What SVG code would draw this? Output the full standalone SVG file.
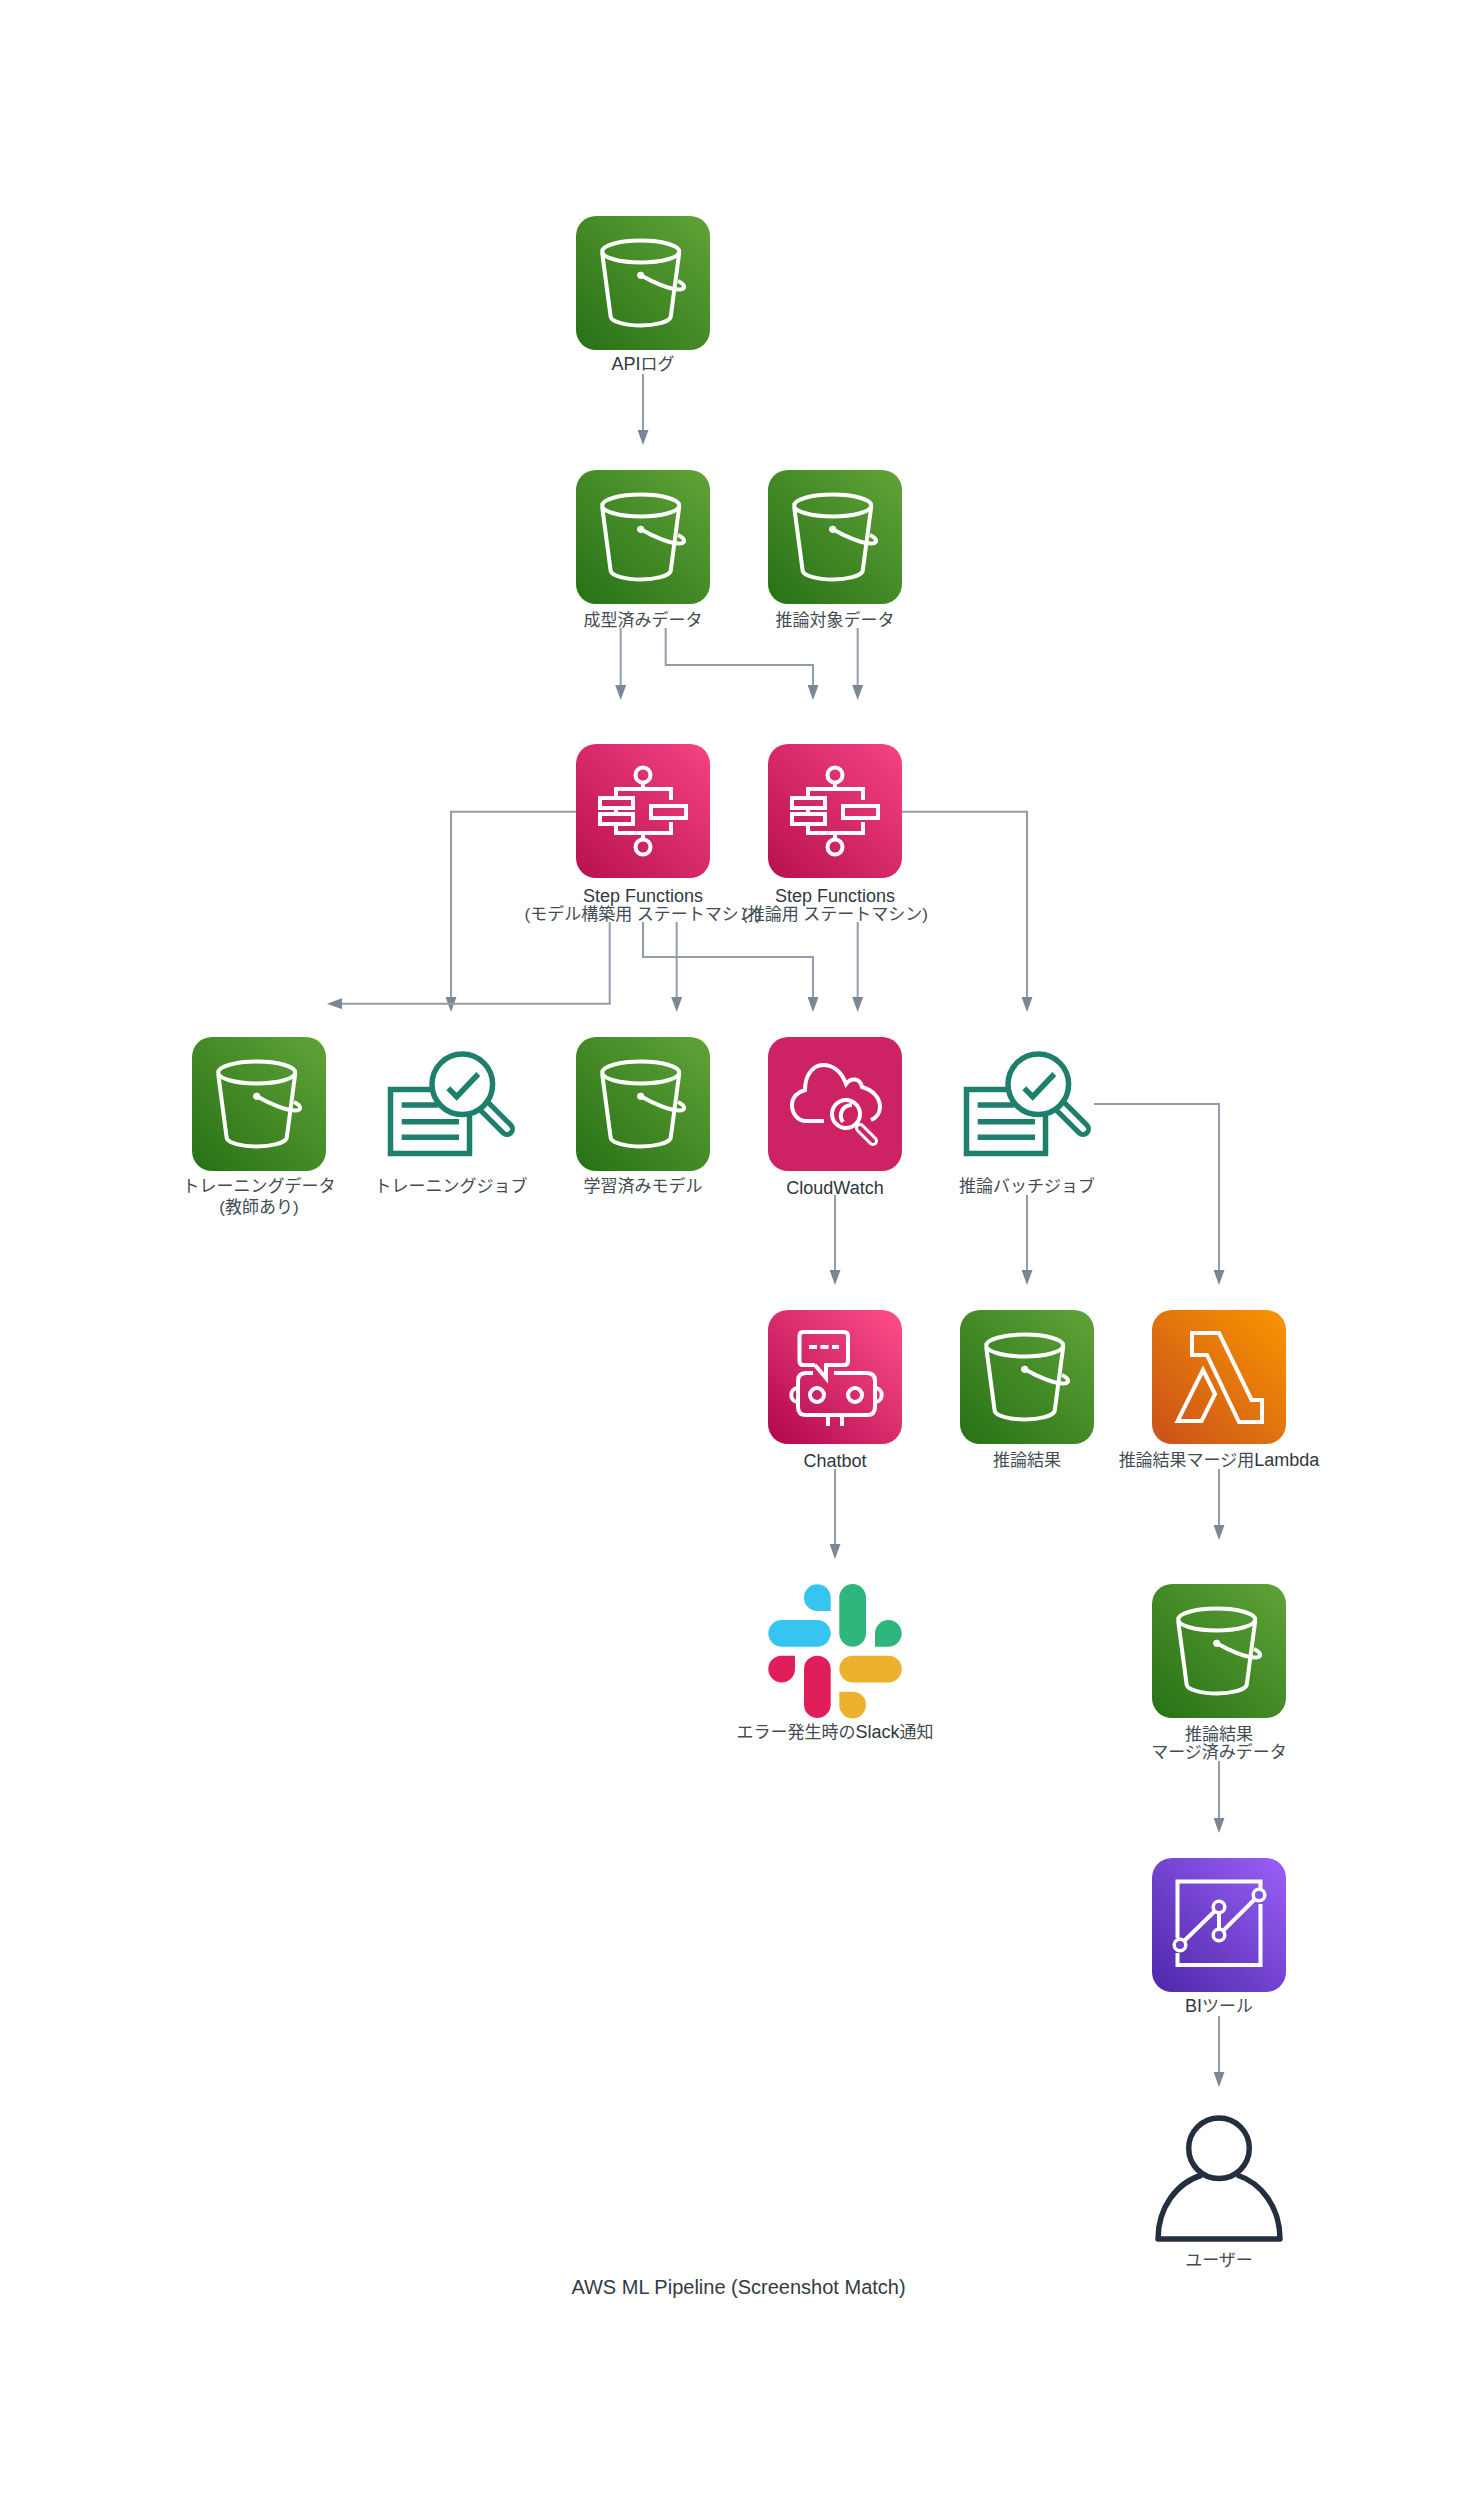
<svg xmlns="http://www.w3.org/2000/svg" width="1478" height="2494" viewBox="0 0 1478 2494">
<style>
text{font-family:"Liberation Sans","Noto Sans CJK JP",sans-serif;font-size:17px;fill:#434b54;text-anchor:middle}
.l{font-size:18px;fill:#2f3740}
.c{fill:none;stroke:#929dab;stroke-width:2;marker-end:url(#ah)}
.w{fill:none;stroke:#fff;stroke-width:4}
.j{fill:none;stroke:#1d7f6c;stroke-width:5.5}
.jf{fill:#fff;stroke:#1d7f6c;stroke-width:5.5}
</style>
<defs>
<linearGradient id="gG" x1="0" y1="1" x2="1" y2="0"><stop offset="0" stop-color="#277116"/><stop offset="1" stop-color="#60A337"/></linearGradient>
<linearGradient id="gP" x1="0" y1="1" x2="1" y2="0"><stop offset="0" stop-color="#B8114F"/><stop offset="1" stop-color="#F54283"/></linearGradient>
<linearGradient id="gC" x1="0" y1="1" x2="1" y2="0"><stop offset="0" stop-color="#B0084D"/><stop offset="1" stop-color="#FF4F8B"/></linearGradient>
<linearGradient id="gO" x1="0" y1="1" x2="1" y2="0"><stop offset="0" stop-color="#C8511B"/><stop offset="1" stop-color="#FA9500"/></linearGradient>
<linearGradient id="gV" x1="0" y1="1" x2="1" y2="0"><stop offset="0" stop-color="#4D27A8"/><stop offset="1" stop-color="#9A60F8"/></linearGradient>
<marker id="ah" markerUnits="userSpaceOnUse" markerWidth="15" markerHeight="11" refX="5" refY="5.5" viewBox="0 0 15 11" orient="auto"><path d="M0 0L15 5.500L0 11z" fill="#7b8794"/></marker>
<g id="bucket">
<rect width="134" height="134" rx="20" fill="url(#gG)"/>
<ellipse cx="64.700" cy="35.500" rx="38.500" ry="11" class="w"/>
<path class="w" d="M26.200 37L34.700 101C36 106 50 109.500 64.700 109.500C79 109.500 93 106 94.700 101L103.200 37"/>
<circle cx="64.700" cy="59.300" r="3.200" fill="#fff" stroke="#fff"/>
<path class="w" d="M64.700 59.300C78 67 95 73.500 103 73.500C110 73.500 110 69 102 65"/>
</g>
<g id="sf">
<rect width="134" height="134" rx="20" fill="url(#gP)"/>
<circle cx="67" cy="31" r="7.500" class="w"/><circle cx="67" cy="103" r="7.500" class="w"/>
<path class="w" d="M67 39V45M40 54V45H95V56M67 89V95M40 80V89H95V78M40 64V70"/>
<rect x="24" y="54" width="33" height="10" class="w"/><rect x="24" y="70" width="33" height="10" class="w"/><rect x="75" y="62" width="35" height="12" class="w"/>
</g>
<g id="job">
<rect x="4.500" y="49.500" width="79" height="64" class="jf"/>
<path class="j" d="M15.700 65H52M15.700 81.700H73M15.700 97.300H73"/>
<path d="M98 66L121 89" stroke="#1d7f6c" stroke-width="16" stroke-linecap="round"/>
<path d="M98 66L121 89" stroke="#fff" stroke-width="6" stroke-linecap="round"/>
<circle cx="76.300" cy="44.300" r="30.300" class="jf"/>
<path class="j" d="M62.300 48.300L70.700 56.700L92.300 34"/>
</g>
</defs>
<g id="connectors">
<path class="c" d="M643 374V435"/>
<path class="c" d="M620.700 628V690"/>
<path class="c" d="M665.700 628V665H813V690"/>
<path class="c" d="M857.700 628V690"/>
<path class="c" d="M576 811.700H451V1002"/>
<path class="c" d="M609.700 922V1003.700H337"/>
<path class="c" d="M643 922V957H813V1002"/>
<path class="c" d="M676.700 922V1002"/>
<path class="c" d="M857.700 922V1002"/>
<path class="c" d="M902 811.700H1027V1002"/>
<path class="c" d="M835 1195V1275"/>
<path class="c" d="M1027 1195V1275"/>
<path class="c" d="M1094 1104H1219V1275"/>
<path class="c" d="M835 1469V1549"/>
<path class="c" d="M1219 1469V1530"/>
<path class="c" d="M1219 1761V1823"/>
<path class="c" d="M1219 2016V2077"/>
</g>
<g id="api-log"><use href="#bucket" x="576" y="216"/><text x="643" y="370"><tspan class="l">API</tspan>ログ</text></g>
<g id="formatted-data"><use href="#bucket" x="576" y="470"/><text x="643" y="626">成型済みデータ</text></g>
<g id="inference-target"><use href="#bucket" x="768" y="470"/><text x="835" y="626">推論対象データ</text></g>
<g id="sf-training"><use href="#sf" x="576" y="744"/><text x="643" y="902" class="l">Step Functions</text><text x="643" y="920">(モデル構築用 ステートマシン)</text></g>
<g id="sf-inference"><use href="#sf" x="768" y="744"/><text x="835" y="902" class="l">Step Functions</text><text x="835" y="920">(推論用 ステートマシン)</text></g>
<g id="training-data"><use href="#bucket" x="192" y="1037"/><text x="259" y="1192">トレーニングデータ</text><text x="259" y="1213">(教師あり)</text></g>
<g id="training-job"><use href="#job" x="386" y="1040"/><text x="451" y="1192">トレーニングジョブ</text></g>
<g id="trained-model"><use href="#bucket" x="576" y="1037"/><text x="643" y="1192">学習済みモデル</text></g>
<g id="cloudwatch"><rect x="768" y="1037" width="134" height="134" rx="20" fill="#CD2264"/>
<g transform="translate(768 1037)"><path class="w" d="M56 84H38C30 84 24 77 24 68C24 60 30 55 37 53C37 38 45 28 55 28C66 28 74 36 78 47C83 40 92 41 94 50C105 53 112 61 112 70C112 76 108 81 103 83"/>
<circle cx="78" cy="77" r="14" class="w"/><path class="w" d="M75 85C70 78 74 68 84 68"/>
<path d="M92 91L105 104" stroke="#fff" stroke-width="10" stroke-linecap="round"/><path d="M92 91L105 104" stroke="#CD2264" stroke-width="4" stroke-linecap="round"/></g>
<text x="835" y="1194" class="l">CloudWatch</text></g>
<g id="inference-job"><use href="#job" x="962" y="1040"/><text x="1027" y="1192">推論バッチジョブ</text></g>
<g id="chatbot"><rect x="768" y="1310" width="134" height="134" rx="20" fill="url(#gC)"/>
<g transform="translate(768 1310)"><path class="w" d="M47 55H35Q31.500 55 31.500 51V26Q31.500 22 35 22H76Q80 22 80 26V51Q80 55 76 55H58V68L47 55"/>
<path class="w" d="M41 37H71" stroke-dasharray="8 3.500"/>
<path class="w" d="M45 63H38Q30 63 30 71V97Q30 105 38 105H99Q107 105 107 97V71Q107 63 99 63H66"/>
<path class="w" d="M30 78C21 78 21 92 30 92M107 78C116 78 116 92 107 92M60 105V116M74 105V116"/>
<ellipse cx="49" cy="85" rx="7" ry="7" class="w"/><ellipse cx="87" cy="85" rx="7" ry="7" class="w"/></g>
<text x="835" y="1467" class="l">Chatbot</text></g>
<g id="inference-result"><use href="#bucket" x="960" y="1310"/><text x="1027" y="1466">推論結果</text></g>
<g id="merge-lambda"><rect x="1152" y="1310" width="134" height="134" rx="20" fill="url(#gO)"/>
<g transform="translate(1152 1310)"><path class="w" d="M40 23H67L99.600 90H110V112H87L55 45H40Z"/><path class="w" d="M51 60L63 84L49.600 111H25.600Z"/></g>
<text x="1219" y="1466">推論結果マージ用<tspan class="l">Lambda</tspan></text></g>
<g id="slack">
<path fill="#36C5F0" d="M830.700 1611H817.300A13.350 13.350 0 1 1 830.700 1597.300Z"/><rect x="768.300" y="1620" width="62.400" height="26.700" rx="13.350" fill="#36C5F0"/>
<rect x="839.300" y="1584" width="26.700" height="62.700" rx="13.350" fill="#2EB67D"/><path fill="#2EB67D" d="M875 1646.700V1633.300A13.350 13.350 0 1 1 888.350 1646.700Z"/>
<path fill="#E01E5A" d="M795 1655.700V1669A13.350 13.350 0 1 1 781.650 1655.700Z"/><rect x="804" y="1655.700" width="26.700" height="62.300" rx="13.350" fill="#E01E5A"/>
<rect x="839.300" y="1655.700" width="62.400" height="26.700" rx="13.350" fill="#ECB22E"/><path fill="#ECB22E" d="M839.300 1691.700H852.650A13.350 13.350 0 1 1 839.300 1705Z"/>
<text x="835" y="1738">エラー発生時の<tspan class="l">Slack</tspan>通知</text></g>
<g id="merged-data"><use href="#bucket" x="1152" y="1584"/><text x="1219" y="1740">推論結果</text><text x="1219" y="1758">マージ済みデータ</text></g>
<g id="bi-tool"><rect x="1152" y="1858" width="134" height="134" rx="20" fill="url(#gV)"/>
<g transform="translate(1152 1858)"><path class="w" d="M25.500 80V23.500H108.500V30M108.500 46V107H25.500V95"/><path class="w" d="M28 87L67 49V77L107 37"/>
<circle cx="28" cy="87" r="5.800" fill="#6f44c9" stroke="#fff" stroke-width="3.500"/><circle cx="67" cy="49" r="5.800" fill="#7949d3" stroke="#fff" stroke-width="3.500"/><circle cx="67" cy="77" r="5.800" fill="#7446cd" stroke="#fff" stroke-width="3.500"/><circle cx="107" cy="37" r="5.800" fill="#8753e4" stroke="#fff" stroke-width="3.500"/></g>
<text x="1219" y="2012"><tspan class="l">BI</tspan>ツール</text></g>
<g id="user"><path d="M1202 2175C1176 2183 1158 2208 1158 2239H1280C1280 2208 1262 2183 1237 2175" fill="none" stroke="#232F3E" stroke-width="5.500" stroke-linejoin="round"/><circle cx="1219" cy="2148.300" r="30.300" fill="#fff" stroke="#232F3E" stroke-width="5.500"/><text x="1219" y="2266">ユーザー</text></g>
<g id="title"><text x="738.500" y="2294" style="font-size:20px;fill:#333b44">AWS ML Pipeline (Screenshot Match)</text></g>
</svg>
